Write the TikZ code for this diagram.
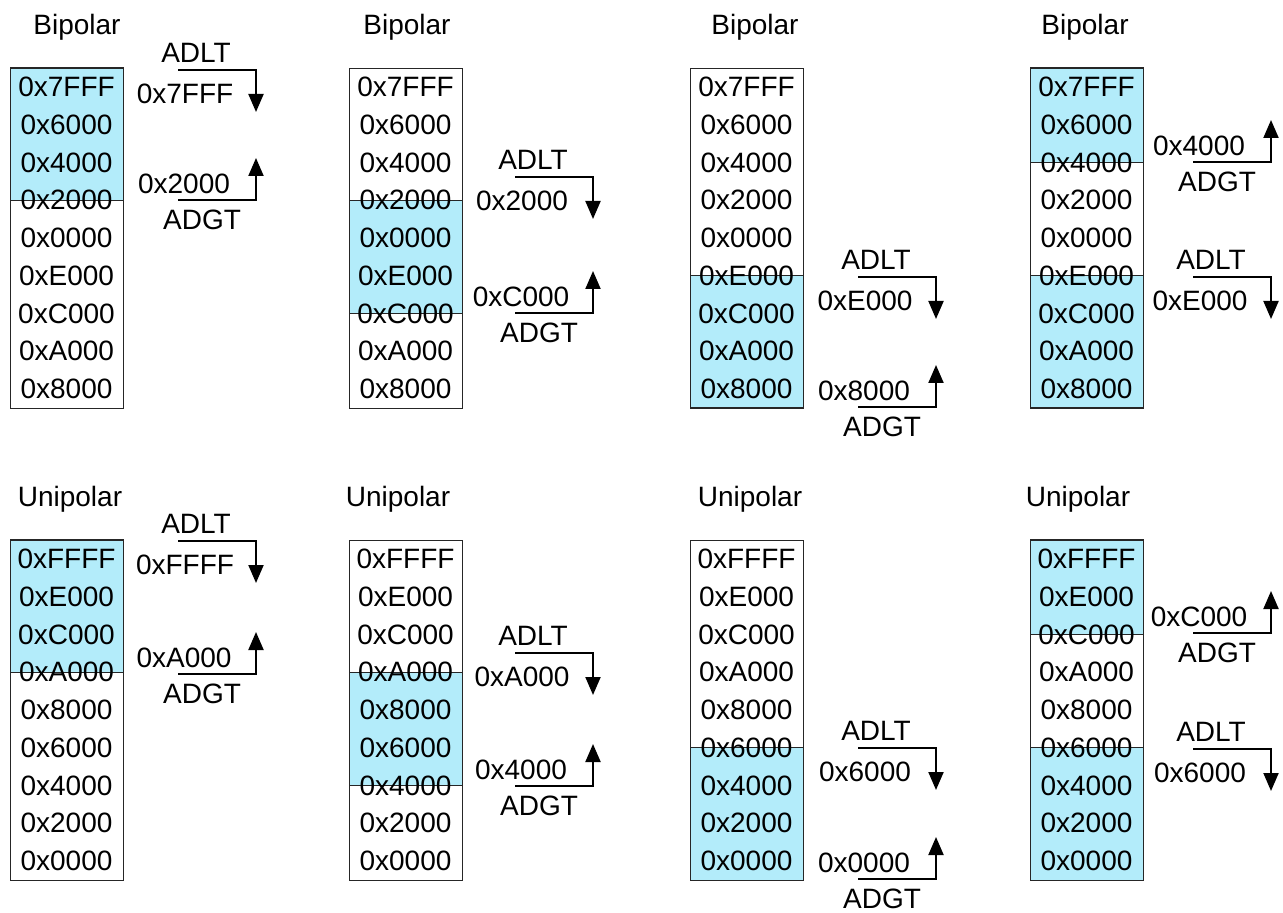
\documentclass[tikz,border=0pt]{standalone}
\usepackage{fontspec}
\setmainfont{Liberation Sans}
\usetikzlibrary{arrows.meta,positioning}

\definecolor{zone}{HTML}{B3ECFA}
\tikzset{
  txt/.style={font=\fontsize{14}{16}\selectfont, inner sep=0pt},
  frame/.style={draw=black!85, line width=0.5pt},
  thr/.style={line width=1pt, -{Triangle[length=9pt,width=7.5pt]}},
}

% box of register values: name, left, top, title x, title, values
\newcommand{\regbox}[6]{%
  \node[frame, anchor=north west, minimum width=56.5pt, minimum height=170pt] (#1) at (#2,#3) {};
  \node[txt] (#1t) at (#4,#3-41) {#5};
  \foreach \v [count=\i] in {#6}
    \node[txt] (#1v\i) at ({#2+56.5},{#3+37.78*(\i-0.5)}) {\v};
}
% threshold arrows: name, x, y, value
\newcommand{\adlt}[4]{%
  \coordinate (#1a) at (#2,#3);
  \coordinate (#1b) at (#2+78,#3);
  \coordinate (#1c) at (#2+78,#3+42);
  \draw[thr] (#1a) -- (#1b) -- (#1c);
  \node[txt] (#1n) at (#2+18,#3-17) {ADLT};
  \node[txt] (#1v) at (#2+7,#3+24) {#4};
}
\newcommand{\adgt}[4]{%
  \coordinate (#1a) at (#2,#3);
  \coordinate (#1b) at (#2+78,#3);
  \coordinate (#1c) at (#2+78,#3-42);
  \draw[thr] (#1a) -- (#1b) -- (#1c);
  \node[txt] (#1v) at (#2+6,#3-16) {#4};
  \node[txt] (#1n) at (#2+24,#3+20) {ADGT};
}

\begin{document}
\begin{tikzpicture}[x=0.5pt, y=-0.5pt]
\useasboundingbox (0,0) rectangle (1283,913);

% shaded windows
\filldraw[zone, frame] (10,68) rectangle (123,200.2);
\filldraw[zone, frame] (349,200.2) rectangle (462,313.6);
\filldraw[zone, frame] (690,275.8) rectangle (803,408);
\filldraw[zone, frame] (1030,68) rectangle (1143,162.4);
\filldraw[zone, frame] (1030,275.8) rectangle (1143,408);
\filldraw[zone, frame] (10,540) rectangle (123,672.2);
\filldraw[zone, frame] (349,672.2) rectangle (462,785.6);
\filldraw[zone, frame] (690,747.8) rectangle (803,880);
\filldraw[zone, frame] (1030,540) rectangle (1143,634.4);
\filldraw[zone, frame] (1030,747.8) rectangle (1143,880);

% bipolar
\regbox{b1}{10}{68}{77}{Bipolar}{0x7FFF,0x6000,0x4000,0x2000,0x0000,0xE000,0xC000,0xA000,0x8000}
\regbox{b2}{349}{68}{407}{Bipolar}{0x7FFF,0x6000,0x4000,0x2000,0x0000,0xE000,0xC000,0xA000,0x8000}
\regbox{b3}{690}{68}{755}{Bipolar}{0x7FFF,0x6000,0x4000,0x2000,0x0000,0xE000,0xC000,0xA000,0x8000}
\regbox{b4}{1030}{68}{1085}{Bipolar}{0x7FFF,0x6000,0x4000,0x2000,0x0000,0xE000,0xC000,0xA000,0x8000}

\adlt{b1lt}{178}{70}{0x7FFF}
\adgt{b1gt}{178}{200}{0x2000}
\adlt{b2lt}{515}{177}{0x2000}
\adgt{b2gt}{515}{313}{0xC000}
\adlt{b3lt}{858}{277}{0xE000}
\adgt{b3gt}{858}{407}{0x8000}
\adgt{b4gt}{1193}{162}{0x4000}
\adlt{b4lt}{1193}{277}{0xE000}

% unipolar
\regbox{u1}{10}{540}{70}{Unipolar}{0xFFFF,0xE000,0xC000,0xA000,0x8000,0x6000,0x4000,0x2000,0x0000}
\regbox{u2}{349}{540}{398}{Unipolar}{0xFFFF,0xE000,0xC000,0xA000,0x8000,0x6000,0x4000,0x2000,0x0000}
\regbox{u3}{690}{540}{750}{Unipolar}{0xFFFF,0xE000,0xC000,0xA000,0x8000,0x6000,0x4000,0x2000,0x0000}
\regbox{u4}{1030}{540}{1078}{Unipolar}{0xFFFF,0xE000,0xC000,0xA000,0x8000,0x6000,0x4000,0x2000,0x0000}

\adlt{u1lt}{178}{541}{0xFFFF}
\adgt{u1gt}{178}{674}{0xA000}
\adlt{u2lt}{515}{653}{0xA000}
\adgt{u2gt}{515}{786}{0x4000}
\adlt{u3lt}{858}{748}{0x6000}
\adgt{u3gt}{858}{879}{0x0000}
\adgt{u4gt}{1193}{633}{0xC000}
\adlt{u4lt}{1193}{749}{0x6000}
\end{tikzpicture}
\end{document}
